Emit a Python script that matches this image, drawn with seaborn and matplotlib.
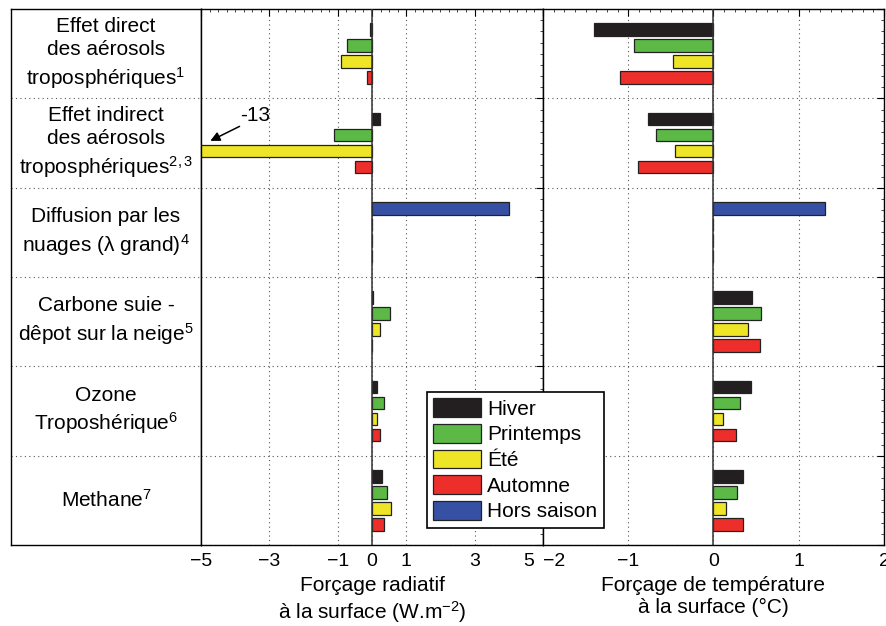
import numpy as np
import pandas as pd
import matplotlib
matplotlib.use("Agg")
import matplotlib.pyplot as plt
from matplotlib.patches import Patch
from matplotlib.ticker import MultipleLocator
from matplotlib.transforms import ScaledTranslation
import seaborn as sns

# forcing categories (top to bottom)
categories = [
    "Effet direct\ndes aérosols\ntroposphériques$^{1}$",
    "Effet indirect\ndes aérosols\ntroposphériques$^{2,3}$",
    "Diffusion par les\nnuages (λ grand)$^{4}$",
    "Carbone suie -\ndêpot sur la neige$^{5}$",
    "Ozone\nTroposhérique$^{6}$",
    "Methane$^{7}$",
]
seasons = ["Hiver", "Printemps", "Été", "Automne", "Hors saison"]

# surface radiative forcing (W.m-2)
rad_hiver = [-0.05, 0.23, np.nan, 0.03, 0.14, 0.29]
rad_printemps = [-0.72, -1.1, 0.0, 0.53, 0.34, 0.45]
rad_ete = [-0.92, -13.0, 0.0, 0.22, 0.15, 0.56]
rad_automne = [-0.15, -0.5, 0.0, 0.0, 0.24, 0.34]
rad_hors = [np.nan, np.nan, 4.02, np.nan, np.nan, np.nan]

# surface temperature forcing (°C)
tmp_hiver = [-1.40, -0.77, np.nan, 0.45, 0.44, 0.35]
tmp_printemps = [-0.93, -0.68, 0.0, 0.56, 0.31, 0.27]
tmp_ete = [-0.47, -0.45, 0.0, 0.41, 0.11, 0.15]
tmp_automne = [-1.10, -0.89, 0.0, 0.54, 0.26, 0.35]
tmp_hors = [np.nan, np.nan, 1.31, np.nan, np.nan, np.nan]

colors = ["#231f20", "#5cb946", "#ede526", "#ee2e2a", "#3651a3"]
palette = dict(zip(seasons, colors))

sns.set_style("white")
plt.rcParams["font.family"] = ["Liberation Sans", "DejaVu Sans"]
plt.rcParams["mathtext.fontset"] = "custom"
plt.rcParams["mathtext.rm"] = "Liberation Sans"
plt.rcParams["mathtext.default"] = "rm"
plt.rcParams["text.color"] = "black"
plt.rcParams["axes.labelcolor"] = "black"
plt.rcParams["xtick.color"] = "black"
plt.rcParams["ytick.color"] = "black"

# build long table; "Hors saison" sits in the first slot of its row
rad = [rad_hiver, rad_printemps, rad_ete, rad_automne, rad_hors]
tmp = [tmp_hiver, tmp_printemps, tmp_ete, tmp_automne, tmp_hors]
slot_of = {"Hiver": 0, "Printemps": 1, "Été": 2, "Automne": 3, "Hors saison": 0}
step = 0.179
rows = []
for s, season in enumerate(seasons):
    for i in range(len(categories)):
        if np.isnan(rad[s][i]):
            continue
        rows.append({"season": season, "row": i,
                     "pos": i + 0.5 + (slot_of[season] - 1.5) * step,
                     "rad": rad[s][i], "tmp": tmp[s][i]})
df = pd.DataFrame(rows)

fig = plt.figure(figsize=(8.87, 6.26), dpi=100)
bot = 1 - 545 / 626
h = 536 / 626
ax_lab = fig.add_axes([11 / 887, bot, 190 / 887, h])
ax_rad = fig.add_axes([201 / 887, bot, 342 / 887, h])
ax_tmp = fig.add_axes([543 / 887, bot, 341 / 887, h])

dot = (0, (1, 3))

for ax, col, lim, ticks, minor in [
        (ax_rad, "rad", (-5, 5), [-5, -3, -1, 0, 1, 3, 5], 0.25),
        (ax_tmp, "tmp", (-2, 2), [-2, -1, 0, 1, 2], 0.125)]:
    ax.set_axisbelow(True)
    ax.grid(True, which="major", linestyle=dot, color="#555555", lw=0.8)
    sns.barplot(data=df, x=col, y="pos", hue="season", palette=palette,
                orient="h", native_scale=True, dodge=False, width=0.81,
                saturation=1, edgecolor="#222222", linewidth=0.9,
                errorbar=None, legend=False, ax=ax)
    ax.axvline(0, color="#333333", lw=1.1, zorder=3)
    ax.set_xlim(*lim)
    ax.set_ylim(6, 0)
    ax.set_xticks(ticks)
    ax.xaxis.set_minor_locator(MultipleLocator(minor))
    ax.set_yticks(range(7))
    ax.yaxis.set_minor_locator(MultipleLocator(0.125))
    ax.set_yticklabels([])
    ax.set_ylabel("")
    ax.tick_params(which="both", direction="in", top=True, right=True,
                   width=0.8, labelsize=14, pad=6)
    ax.tick_params(which="major", length=5)
    ax.tick_params(which="minor", length=2, width=0.5)
    for sp in ax.spines.values():
        sp.set_color("black")
        sp.set_linewidth(1.0)

# keep "5" and "-2" apart at the shared edge
lab5 = ax_rad.get_xticklabels()[-1]
lab5.set_ha("right")
lab5.set_transform(lab5.get_transform() + ScaledTranslation(-0.09, 0, fig.dpi_scale_trans))
labm2 = ax_tmp.get_xticklabels()[0]
labm2.set_ha("left")

ax_rad.set_xlabel("Forçage radiatif\nà la surface (W.m$^{-2}$)", fontsize=15, labelpad=4)
ax_tmp.set_xlabel("Forçage de température\nà la surface (°C)", fontsize=15, labelpad=4)

# the -13 bar runs off the axis
ax_rad.annotate("", xy=(-4.8, 1.49), xytext=(-3.8, 1.3),
                arrowprops=dict(arrowstyle="-|>", color="black", lw=1.1,
                                mutation_scale=14))
ax_rad.text(-3.85, 1.3, "-13", fontsize=15, ha="left", va="bottom")

# label column
ax_lab.set_xlim(0, 1)
ax_lab.set_ylim(6, 0)
ax_lab.set_xticks([])
ax_lab.set_yticks([])
for i in range(1, 6):
    ax_lab.axhline(i, linestyle=dot, color="#555555", lw=0.8)
for i, lab in enumerate(categories):
    ax_lab.text(0.5, i + 0.5, lab, ha="center", va="center", fontsize=15,
                linespacing=1.3)
for sp in ax_lab.spines.values():
    sp.set_color("black")
    sp.set_linewidth(1.0)

handles = [Patch(facecolor=c, edgecolor="#222222", lw=0.9) for c in colors]
leg = fig.legend(handles, seasons, loc="upper left",
                 bbox_to_anchor=(427 / 887, 1 - 392 / 626), frameon=True,
                 fancybox=False, edgecolor="black", framealpha=1, fontsize=15,
                 handlelength=2.3, handleheight=1.0, labelspacing=0.25,
                 borderpad=0.3, handletextpad=0.3, borderaxespad=0)
leg.get_frame().set_linewidth(1.2)

fig.savefig("out.png", dpi=100)
